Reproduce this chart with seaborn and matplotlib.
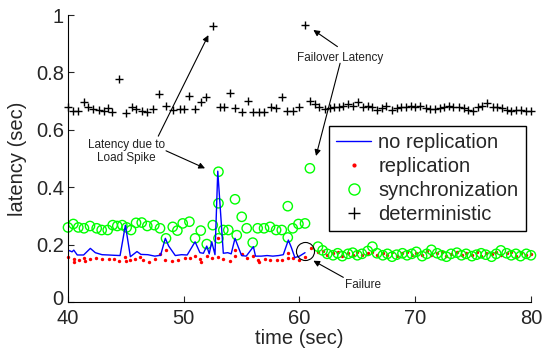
import matplotlib
matplotlib.use("Agg")
import matplotlib.pyplot as plt
import matplotlib.transforms as mtransforms
from matplotlib.lines import Line2D
from matplotlib.ticker import FuncFormatter
import seaborn as sns

# no replication (blue line), before the failure only
norep_t = [40.0, 40.35, 40.5, 40.8, 41.35, 41.93, 42.36, 42.94, 43.5, 43.95,
           44.5, 44.96, 45.39, 45.96, 46.3, 46.9, 47.5, 48.0, 48.41, 48.7,
           49.27, 49.8, 50.3, 50.98, 51.4, 51.7, 51.99, 52.2, 52.42, 52.7,
           52.94, 53.42, 53.8, 54.1, 54.43, 54.7, 55.0, 55.4, 56.02, 56.2,
           56.7, 57.2, 57.7, 58.2, 58.6, 59.04, 59.3, 59.6, 60.0, 60.48]
norep_v = [0.181, 0.175, 0.181, 0.164, 0.164, 0.187, 0.172, 0.165, 0.164, 0.163,
           0.162, 0.268, 0.158, 0.176, 0.166, 0.165, 0.160, 0.163, 0.222, 0.195,
           0.162, 0.165, 0.164, 0.210, 0.172, 0.170, 0.195, 0.168, 0.210, 0.165,
           0.456, 0.170, 0.172, 0.168, 0.222, 0.193, 0.162, 0.160, 0.193, 0.160,
           0.160, 0.162, 0.160, 0.162, 0.165, 0.216, 0.190, 0.155, 0.160, 0.172]

# replication (red dots)
rep_t = [40.0, 40.49, 40.52, 40.92, 41.35, 41.44, 41.93, 42.45, 42.94, 43.51,
         43.95, 44.44, 44.96, 45.01, 45.39, 45.82, 46.25, 46.48, 46.97, 47.49,
         47.98, 48.41, 48.50, 48.99, 49.51, 50.11, 50.57, 50.98, 51.41, 51.45,
         51.99, 52.42, 52.94, 52.97, 53.42, 54.00, 54.43, 54.46, 55.01, 55.44,
         56.02, 56.45, 56.48, 57.03, 57.46, 58.04, 58.47, 58.99, 59.02, 59.47,
         59.97, 60.48, 61.0,
         61.6, 62.0, 62.4, 62.9, 63.3, 63.7, 64.2, 64.6, 65.0, 65.4,
         65.9, 66.3, 66.7, 67.2, 67.6, 68.0, 68.4, 68.9, 69.3, 69.7,
         70.1, 70.6, 71.0, 71.4, 71.9, 72.3, 72.7, 73.1, 73.6, 74.0,
         74.4, 74.9, 75.3, 75.7, 76.1, 76.6, 77.0, 77.4, 77.9, 78.3,
         78.7, 79.1, 79.6, 80.0]
rep_v = [0.158, 0.149, 0.140, 0.146, 0.152, 0.144, 0.149, 0.154, 0.149, 0.149,
         0.149, 0.144, 0.156, 0.144, 0.146, 0.150, 0.156, 0.146, 0.140, 0.150,
         0.166, 0.146, 0.181, 0.144, 0.146, 0.152, 0.154, 0.160, 0.149, 0.141,
         0.160, 0.152, 0.224, 0.157, 0.149, 0.144, 0.183, 0.160, 0.167, 0.152,
         0.160, 0.147, 0.139, 0.149, 0.147, 0.147, 0.147, 0.172, 0.155, 0.152,
         0.147, 0.157, 0.187,
         0.175, 0.179, 0.164, 0.170, 0.175, 0.162, 0.172, 0.165, 0.175, 0.163,
         0.170, 0.176, 0.164, 0.172, 0.165, 0.175, 0.162, 0.170, 0.174, 0.163,
         0.172, 0.165, 0.178, 0.164, 0.170, 0.175, 0.162, 0.168, 0.174, 0.163,
         0.170, 0.165, 0.175, 0.162, 0.172, 0.166, 0.176, 0.163, 0.170, 0.174,
         0.162, 0.170, 0.165, 0.168]

# synchronization (green circles)
sync_t = [40.0, 40.46, 40.89, 41.38, 41.90, 42.48, 42.91, 43.43, 43.86, 44.26,
          44.69, 45.07, 45.45, 45.88, 46.37, 46.85, 47.46, 47.95, 48.47, 49.05,
          49.45, 49.91, 50.49, 50.98, 51.47, 51.99, 52.51, 53.0, 53.0, 53.0,
          53.42, 53.85, 54.43, 54.58, 55.01, 55.44, 55.96, 56.39, 56.94, 57.46,
          57.98, 58.47, 58.99, 58.99, 59.42, 59.91, 60.48, 60.9,
          61.6, 62.0, 62.4, 62.9, 63.3, 63.7, 64.2, 64.6, 65.0, 65.4,
          65.9, 66.3, 66.7, 67.2, 67.6, 68.0, 68.4, 68.9, 69.3, 69.7,
          70.1, 70.6, 71.0, 71.4, 71.9, 72.3, 72.7, 73.1, 73.6, 74.0,
          74.4, 74.9, 75.3, 75.7, 76.1, 76.6, 77.0, 77.4, 77.9, 78.3,
          78.7, 79.1, 79.6, 80.0]
sync_v = [0.260, 0.272, 0.260, 0.257, 0.265, 0.257, 0.251, 0.251, 0.268, 0.265,
          0.268, 0.260, 0.251, 0.276, 0.277, 0.265, 0.268, 0.257, 0.222, 0.262,
          0.249, 0.274, 0.280, 0.222, 0.249, 0.202, 0.268, 0.222, 0.344, 0.454,
          0.251, 0.251, 0.358, 0.233, 0.297, 0.257, 0.207, 0.257, 0.257, 0.262,
          0.251, 0.251, 0.225, 0.334, 0.257, 0.272, 0.274, 0.466,
          0.193, 0.180, 0.168, 0.163, 0.170, 0.160, 0.168, 0.172, 0.163, 0.168,
          0.178, 0.193, 0.170, 0.163, 0.168, 0.158, 0.165, 0.170, 0.163, 0.168,
          0.175, 0.160, 0.168, 0.182, 0.170, 0.163, 0.158, 0.168, 0.172, 0.163,
          0.168, 0.160, 0.165, 0.170, 0.165, 0.158, 0.168, 0.180, 0.170, 0.163,
          0.168, 0.160, 0.168, 0.163]

# deterministic (black plus)
det_t = [40.0, 40.43, 40.86, 41.38, 41.73, 42.16, 42.68, 43.11, 43.46, 43.80,
         44.41, 45.01, 45.53, 45.88, 46.40, 46.83, 47.35, 47.87, 48.47, 49.08,
         49.68, 50.03, 50.46, 50.98, 51.50, 51.94, 52.51, 53.14, 53.48, 54.00,
         54.43, 55.04, 55.56, 55.99, 56.51, 56.94, 57.55, 57.98, 58.50, 58.93,
         59.45, 59.97, 60.49,
         60.9, 61.3, 61.7, 62.2, 62.6, 63.0, 63.4, 63.8, 64.2, 64.6,
         65.1, 65.5, 65.9, 66.3, 66.7, 67.1, 67.5, 68.0, 68.4, 68.8,
         69.2, 69.6, 70.0, 70.4, 70.9, 71.3, 71.7, 72.1, 72.5, 72.9,
         73.3, 73.8, 74.2, 74.6, 75.0, 75.4, 75.8, 76.2, 76.7, 77.1,
         77.5, 77.9, 78.3, 78.7, 79.1, 79.6, 80.0]
det_v = [0.680, 0.666, 0.666, 0.696, 0.678, 0.671, 0.669, 0.667, 0.675, 0.663,
         0.776, 0.660, 0.680, 0.671, 0.667, 0.663, 0.672, 0.724, 0.684, 0.669,
         0.671, 0.671, 0.718, 0.671, 0.696, 0.715, 0.962, 0.678, 0.678, 0.729,
         0.675, 0.663, 0.701, 0.663, 0.663, 0.663, 0.678, 0.675, 0.715, 0.666,
         0.666, 0.680, 0.965,
         0.701, 0.690, 0.678, 0.671, 0.675, 0.680, 0.678, 0.683, 0.690, 0.683,
         0.698, 0.678, 0.683, 0.678, 0.669, 0.675, 0.683, 0.669, 0.675, 0.678,
         0.680, 0.683, 0.678, 0.683, 0.675, 0.671, 0.671, 0.675, 0.680, 0.683,
         0.678, 0.678, 0.675, 0.669, 0.667, 0.678, 0.683, 0.694, 0.680, 0.678,
         0.675, 0.669, 0.667, 0.669, 0.669, 0.667, 0.667]

legend_labels = ["no replication", "replication", "synchronization", "deterministic"]
x_ticks = [40, 50, 60, 70, 80]
y_ticks = [0, 0.2, 0.4, 0.6, 0.8, 1]

# where the failure happens (circled in the figure)
fail_t, fail_v = 60.48, 0.179

GREEN = (0, 1, 0)
NOTE = "#222222"

sns.set_style("ticks")
plt.rcParams["font.family"] = ["Liberation Sans", "DejaVu Sans"]

fig = plt.figure(figsize=(5.44, 3.5), dpi=100)
ax = fig.add_axes([0.125, 0.137, 0.851, 0.82])

sns.lineplot(x=norep_t, y=norep_v, color="blue", linewidth=1,
             estimator=None, sort=False, ax=ax)
sns.scatterplot(x=rep_t, y=rep_v, color="red", marker="o", s=6,
                linewidth=0, clip_on=False, ax=ax)
sns.scatterplot(x=sync_t, y=sync_v, marker="o", s=45, color=GREEN,
                facecolor="none", edgecolor=GREEN, linewidth=1,
                clip_on=False, ax=ax)
sns.scatterplot(x=det_t, y=det_v, marker="+", s=40, color="black",
                linewidth=1, clip_on=False, ax=ax)

# failure circle
ax.plot(fail_t, fail_v, marker="o", ms=13, mfc="none", mec="black", mew=0.8)

ax.set_xlim(40, 80)
ax.set_ylim(0, 1)
ax.set_xticks(x_ticks)
ax.set_yticks(y_ticks)
ax.yaxis.set_major_formatter(FuncFormatter(lambda v, _: f"{v:g}"))
ax.tick_params(direction="in", length=4, width=0.8, labelsize=14.5)
ax.tick_params(axis="x", pad=5)
ax.tick_params(axis="y", pad=3)
ax.set_xlabel("time (sec)", fontsize=14.5, labelpad=1)
ax.set_ylabel("latency (sec)", fontsize=14.5, labelpad=6)
sns.despine(ax=ax)
for side in ["left", "bottom"]:
    ax.spines[side].set_linewidth(0.8)
    ax.spines[side].set_color("black")

# nudge the "0" label up a little so it clears the "40" below it
fig.canvas.draw()
zero_lbl = ax.get_yticklabels()[0]
zero_lbl.set_transform(zero_lbl.get_transform() +
                       mtransforms.ScaledTranslation(0, 3 / 72, fig.dpi_scale_trans))

# annotations
arrow = dict(arrowstyle="-|>", color="black", lw=0.8, mutation_scale=9,
             shrinkA=0, shrinkB=0)
ax.text(45.06, 0.526, "Latency due to\nLoad Spike", fontsize=8.5, color=NOTE,
        ha="center", va="center", linespacing=1.1)
ax.annotate("", xy=(52.13, 0.93), xytext=(47.8, 0.578), arrowprops=arrow)
ax.annotate("", xy=(51.84, 0.466), xytext=(48.47, 0.527), arrowprops=arrow)

ax.text(63.48, 0.85, "Failover Latency", fontsize=8.5, color=NOTE,
        ha="center", va="center")
ax.annotate("", xy=(61.2, 0.948), xytext=(63.28, 0.89), arrowprops=arrow)
ax.annotate("", xy=(61.43, 0.509), xytext=(63.51, 0.832), arrowprops=arrow)

ax.text(65.45, 0.059, "Failure", fontsize=8.5, color=NOTE,
        ha="center", va="center")
ax.annotate("", xy=(61.2, 0.144), xytext=(63.79, 0.086), arrowprops=arrow)

handles = [
    Line2D([], [], color="blue", lw=1),
    Line2D([], [], color="red", marker=".", ls="none", ms=4),
    Line2D([], [], color=GREEN, marker="o", mfc="none", ls="none", ms=8, mew=1),
    Line2D([], [], color="black", marker="+", ls="none", ms=8, mew=1),
]
leg = ax.legend(handles, legend_labels, loc="upper left",
                bbox_to_anchor=(0.564, 0.613), borderaxespad=0,
                fontsize=14.5, frameon=True, fancybox=False,
                edgecolor="black", framealpha=1, handlelength=1.75,
                borderpad=0.35, labelspacing=0.25, handletextpad=0.35)
leg.get_frame().set_linewidth(1)

fig.savefig("out.png", dpi=100)
